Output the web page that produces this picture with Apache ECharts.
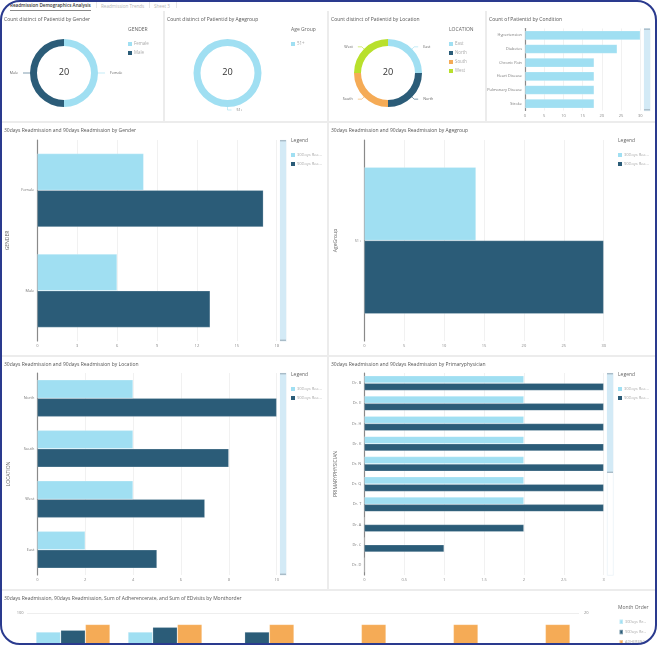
<!DOCTYPE html>
<html>
<head>
<meta charset="utf-8">
<script src="https://cdn.jsdelivr.net/npm/echarts@6/dist/echarts.min.js"></script>
<style>
html,body{margin:0;padding:0;width:657px;height:645px;overflow:hidden;background:#ececec;font-family:"Open Sans",sans-serif;}
.panel{position:absolute;background:#fff;}
.tabs{position:absolute;left:0;top:0;width:657px;height:11px;background:#fff;font-size:4.6px;line-height:11px;color:#b5b5b5;white-space:nowrap;}
.tabs span{position:absolute;top:0.5px;}
.tabs i{position:absolute;top:2px;width:1px;height:6px;background:#e6e6e6;}
.frame{position:absolute;left:0;top:0;width:653px;height:641px;border:2px solid #2a3a8e;border-radius:20px;box-shadow:0 0 0 20px #fff;pointer-events:none;z-index:5;}
</style>
</head>
<body>
<div class="tabs">
  <span style="left:10px;color:#333;font-weight:600;border-bottom:0.6px solid #888;line-height:9.5px">Readmission Demographics Analysis</span><i style="left:96px"></i>
  <span style="left:101px">Readmission Trends</span><i style="left:149px"></i>
  <span style="left:154px">Sheet 3</span><i style="left:176px"></i>
</div>
<div class="panel" id="gender" style="left:2px;top:11px;width:161px;height:110px"></div>
<div class="panel" id="age" style="left:165px;top:11px;width:162px;height:110px"></div>
<div class="panel" id="location" style="left:329px;top:11px;width:156px;height:110px"></div>
<div class="panel" id="condition" style="left:487px;top:11px;width:168px;height:110px"></div>
<div class="panel" id="barGender" style="left:2px;top:123px;width:325px;height:232px"></div>
<div class="panel" id="barAge" style="left:329px;top:123px;width:326px;height:232px"></div>
<div class="panel" id="barLocation" style="left:2px;top:357px;width:325px;height:232px"></div>
<div class="panel" id="barDoctor" style="left:329px;top:357px;width:326px;height:232px"></div>
<div class="panel" id="monthly" style="left:2px;top:591px;width:653px;height:232px"></div>
<div class="frame"></div>
<script>
const LIGHT = '#a0dff2', DARK = '#2b5c78', ORANGE = '#f5ab56', LIME = '#b8e02c';
const FONT = '"Open Sans",sans-serif';

const genderNames = ['Female', 'Male'];
const genderCounts = [10, 10];
const ageNames = ['51+'];
const ageCounts = [20];
const locationNames = ['East', 'North', 'South', 'West'];
const locationCounts = [5, 5, 5, 5];

const conditionNames = ['Hypertension', 'Diabetes', 'Chronic Pain', 'Heart Disease', 'Pulmonary Disease', 'Stroke'];
const conditionCounts = [30, 24, 18, 18, 18, 18];

const SERIES_30 = '30Days Readmission', SERIES_90 = '90Days Readmission';
const gender30 = [8, 6];
const gender90 = [17, 13];
const age30 = [14];
const age90 = [30];
const locationBarNames = ['North', 'South', 'West', 'East'];
const location30 = [4, 4, 4, 2];
const location90 = [10, 8, 7, 5];
const doctorNames = ['Dr. B', 'Dr. E', 'Dr. H', 'Dr. K', 'Dr. N', 'Dr. Q', 'Dr. T', 'Dr. A', 'Dr. C', 'Dr. D'];
const doctor30 = [2, 2, 2, 2, 2, 2, 2, 0, 0, 0];
const doctor90 = [3, 3, 3, 3, 3, 3, 3, 2, 1, 0];

const months = ['1', '2', '3', '4', '5', '6'];
const month30 = [18, 18, 0, 0, 0, 0];
const month90 = [18.2, 18.5, 18, 0, 0, 0];
const monthAdherence = [94, 94, 94, 94, 94, 94];

const panelTitle = (text, top) => ({
    text, left: 2, top, padding: 0,
    textStyle: {fontSize: 5, fontWeight: 'normal', color: '#555', fontFamily: FONT}
});

const smallText = (left, top, text, size, color) => ({
    type: 'text', left, top,
    style: {text, fontSize: size, fill: color, fontFamily: FONT}
});

const initChart = (dom, option) => {
    let myChart = echarts.init(document.getElementById(dom), null, {renderer: 'canvas'});
    myChart.setOption(Object.assign({animation: false}, option));
};

// donuts in the top row
const drawDonut = (dom, title, legendTitle, names, counts, colors, cx, legendX, total) => {
    initChart(dom, {
        title: panelTitle(title, 6.5),
        color: colors,
        legend: {
            orient: 'vertical', left: legendX, top: 31, padding: 0, icon: 'rect',
            itemWidth: 4, itemHeight: 4, itemGap: 5,
            textStyle: {fontSize: 4.4, color: '#aaa', padding: [0, 0, 0, -3], fontFamily: FONT},
            data: names
        },
        graphic: [
            smallText(legendX, 16, legendTitle, 5, '#666'),
            {type: 'text', left: cx - 5.2, top: 56.5, style: {text: total, fontSize: 9.2, fill: '#333', fontFamily: FONT}}
        ],
        series: [{
            type: 'pie', center: [cx, 62], radius: [27, 34], startAngle: 90,
            clockwise: names.length > 1,
            label: {fontSize: 3.7, color: '#666', fontFamily: FONT},
            labelLine: {length: 3, length2: 4, lineStyle: {width: 0.6}},
            data: names.map((n, i) => ({name: n, value: counts[i]}))
        }]
    });
};

// scrollbar on the right of a bar chart
const scrollBar = (x, y, h, fill) => [
    {type: 'rect', left: x, top: y, shape: {width: 6, height: h}, style: {fill: '#fff', stroke: '#e4eff5', lineWidth: 0.6}},
    {type: 'rect', left: x, top: y, shape: {width: 6, height: fill}, style: {fill: '#d3eaf6'}},
    {type: 'rect', left: x, top: y, shape: {width: 6, height: 1.4}, style: {fill: '#a9bcc8'}},
    {type: 'rect', left: x, top: y + fill - 1.4, shape: {width: 6, height: 1.4}, style: {fill: '#a9bcc8'}}
];

const valueAxis = (max, interval) => ({
    type: 'value', min: 0, max, interval, position: 'bottom',
    axisLine: {show: false}, axisTick: {show: false},
    axisLabel: {fontSize: 4, color: '#888', margin: 3, fontFamily: FONT},
    splitLine: {lineStyle: {color: '#f1f1f1', width: 1}}
});

const categoryAxis = (names, axisName, nameGap) => ({
    type: 'category', inverse: true, data: names,
    name: axisName, nameLocation: 'middle', nameGap,
    nameTextStyle: {fontSize: 5, color: '#666', fontFamily: FONT},
    axisLine: {lineStyle: {color: '#8a8a8a', width: 1.2}},
    axisTick: {length: 2, lineStyle: {color: '#999', width: 0.8}},
    axisLabel: {fontSize: 3.9, color: '#777', margin: 3, fontFamily: FONT}
});

const barStyle = (color) => ({color, borderColor: 'rgba(255,255,255,0.35)', borderWidth: 0.6});

// the four big horizontal bar charts
const drawPairBars = (dom, title, axisName, names, first, second, max, interval, grid, bar) => {
    initChart(dom, {
        title: panelTitle(title, 5.5),
        color: [LIGHT, DARK],
        grid: Object.assign({outerBoundsMode: 'none'}, grid),
        legend: {
            orient: 'vertical', left: 289, top: 30, padding: 0, icon: 'rect',
            itemWidth: 4, itemHeight: 4, itemGap: 5,
            itemStyle: {borderWidth: 0},
            textStyle: {fontSize: 4, color: '#aaa', width: 27, overflow: 'truncate', padding: [0, 0, 0, -3], fontFamily: FONT},
            data: [SERIES_30, SERIES_90]
        },
        graphic: [smallText(289, 15, 'Legend', 5, '#666')].concat(bar || []),
        xAxis: valueAxis(max, interval),
        yAxis: categoryAxis(names, axisName, 26),
        series: [
            {type: 'bar', name: SERIES_30, data: first, barGap: 0, barCategoryGap: '27%', itemStyle: barStyle(LIGHT)},
            {type: 'bar', name: SERIES_90, data: second, itemStyle: barStyle(DARK)}
        ]
    });
};

const drawChart = () => {
    drawDonut('gender', 'Count distinct of Patientid by Gender', 'GENDER', genderNames, genderCounts, [LIGHT, DARK], 62, 126, '20');
    drawDonut('age', 'Count distinct of Patientid by Agegroup', 'Age Group', ageNames, ageCounts, [LIGHT], 62.5, 126, '20');
    drawDonut('location', 'Count distinct of Patientid by Location', 'LOCATION', locationNames, locationCounts, [LIGHT, DARK, ORANGE, LIME], 59, 120, '20');

    initChart('condition', {
        title: panelTitle('Count of Patientid by Condition', 6.5),
        color: [LIGHT],
        grid: {outerBoundsMode: 'none', left: 38, top: 17.5, width: 115.3, height: 82},
        graphic: scrollBar(157, 17.5, 82, 82),
        xAxis: valueAxis(30, 5),
        yAxis: categoryAxis(conditionNames, '', 0),
        series: [{type: 'bar', data: conditionCounts, barCategoryGap: '32%', itemStyle: barStyle(LIGHT)}]
    });

    drawPairBars('barGender', '30days Readmission and 90days Readmission by Gender', 'GENDER', genderNames, gender30, gender90, 18, 3,
        {left: 35.3, top: 17, width: 239.4, height: 201}, scrollBar(278, 17, 201, 201));
    drawPairBars('barAge', '30days Readmission and 90days Readmission by Agegroup', 'AgeGroup', ageNames, age30, age90, 30, 5,
        {left: 35.3, top: 17, width: 239.4, height: 201});
    drawPairBars('barLocation', '30days Readmission and 90days Readmission by Location', 'LOCATION', locationBarNames, location30, location90, 10, 2,
        {left: 35.3, top: 16, width: 239.4, height: 202}, scrollBar(278, 16, 202, 202));
    drawPairBars('barDoctor', '30days Readmission and 90days Readmission by Primaryphysician', 'PRIMARYPHYSICIAN', doctorNames, doctor30, doctor90, 3, 0.5,
        {left: 35.3, top: 16, width: 239.4, height: 202}, scrollBar(278, 16, 202, 100));

    initChart('monthly', {
        title: panelTitle('30days Readmission, 90days Readmission, Sum of Adherencerate, and Sum of EDvisits by Monthorder', 5.3),
        color: [LIGHT, DARK, ORANGE],
        grid: {outerBoundsMode: 'none', left: 25, top: 22, width: 552, height: 190},
        legend: {
            orient: 'vertical', left: 616.5, top: 27.5, padding: 0, icon: 'rect',
            itemWidth: 3.5, itemHeight: 4.5, itemGap: 3.8,
            textStyle: {fontSize: 3.8, color: '#aaa', width: 24, overflow: 'truncate', padding: [0, 0, 0, -3], fontFamily: FONT},
            data: [SERIES_30, SERIES_90, 'ADHERENCERATE']
        },
        graphic: [smallText(616, 14, 'Month Order', 5, '#666')],
        xAxis: {type: 'category', data: months, axisLine: {show: false}, axisTick: {show: false}, axisLabel: {show: false}},
        yAxis: [
            {type: 'value', min: 0, max: 100, interval: 20, axisLine: {show: false}, axisTick: {show: false},
                axisLabel: {fontSize: 4, color: '#888', margin: 3.5, fontFamily: FONT}, splitLine: {lineStyle: {color: '#eee'}}},
            {type: 'value', min: 0, max: 20, interval: 4, axisLine: {show: false}, axisTick: {show: false},
                axisLabel: {fontSize: 4, color: '#888', margin: 5, fontFamily: FONT}, splitLine: {show: false}}
        ],
        series: [
            {type: 'bar', name: SERIES_30, yAxisIndex: 1, data: month30, barGap: 0, barCategoryGap: '19.5%', itemStyle: barStyle(LIGHT)},
            {type: 'bar', name: SERIES_90, yAxisIndex: 1, data: month90, itemStyle: barStyle(DARK)},
            {type: 'bar', name: 'ADHERENCERATE', yAxisIndex: 0, data: monthAdherence, itemStyle: barStyle(ORANGE)}
        ]
    });
};

drawChart();
</script>
</body>
</html>
